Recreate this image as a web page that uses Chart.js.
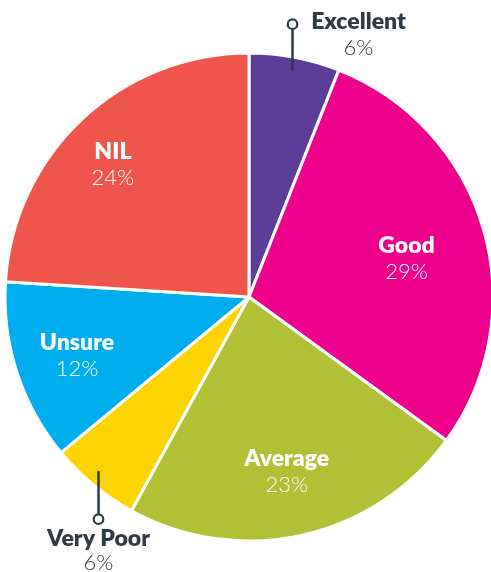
<!DOCTYPE html>
<html><head><meta charset="utf-8">
<script src="https://cdn.jsdelivr.net/npm/chart.js@4.4.1/dist/chart.umd.min.js"></script>
<style>html,body{margin:0;padding:0;background:#fff;}#wrap{width:491px;height:572px;position:relative;}</style>
</head><body><div id="wrap"><canvas id="c" width="491" height="572"></canvas></div>
<script>
const categories = ["Excellent", "Good", "Average", "Very Poor", "Unsure", "NIL"];
const values = [6, 29, 23, 6, 12, 24];
const valueLabels = ["6%", "29%", "23%", "6%", "12%", "24%"];
const colors = ["#5C3D98", "#EC008C", "#B2C036", "#FDD400", "#00AEEF", "#EF554B"];

// label style: inside (radius fraction) or callout
const labelStyle = [
  {type: "callout", r: 0.946, dx: 0, dy: 0, dir: -1, len: 47, textDx: 66},
  {type: "inside", r: 0.675, dx: 0, dy: 2},
  {type: "inside", r: 0.712, dx: 0, dy: 0},
  {type: "callout", r: 0.93, dx: -7, dy: 0, dir: 1, len: 48, textDx: 0},
  {type: "inside", r: 0.74, dx: -1, dy: -3},
  {type: "inside", r: 0.80, dx: -3, dy: 4}
];
const BOLD = "800 23px Lato";
const LIGHT = "300 22px Lato";

const labelPlugin = {
  id: "labels",
  afterDraw(chart) {
    const ctx = chart.ctx;
    const meta = chart.getDatasetMeta(0);
    meta.data.forEach((arc, i) => {
      const st = labelStyle[i];
      const mid = (arc.startAngle + arc.endAngle) / 2;
      const rr = 243 * st.r;
      const x = arc.x + Math.cos(mid) * rr + st.dx;
      const y = arc.y + Math.sin(mid) * rr + st.dy;
      ctx.save();
      ctx.textAlign = "center";
      ctx.textBaseline = "alphabetic";
      if (st.type === "inside") {
        ctx.fillStyle = "#ffffff";
        ctx.font = BOLD;
        ctx.fillText(categories[i], x, y);
        ctx.font = LIGHT;
        ctx.fillText(valueLabels[i], x, y + 26);
      } else {
        const ex = Math.round(x) + 0.5;
        const cy = y + st.dir * st.len;
        ctx.strokeStyle = "#2E3B44";
        ctx.lineWidth = 2.5;
        ctx.beginPath();
        ctx.moveTo(ex, y);
        ctx.lineTo(ex, cy - st.dir * 5);
        ctx.stroke();
        ctx.beginPath();
        ctx.arc(ex, cy, 4.8, 0, Math.PI * 2);
        ctx.fillStyle = "#ffffff";
        ctx.fill();
        ctx.lineWidth = 2.2;
        ctx.stroke();
        const tx = ex + st.textDx;
        const b1 = st.dir < 0 ? cy + 5 : cy + 27;
        ctx.fillStyle = "#2E3B44";
        ctx.font = BOLD;
        ctx.fillText(categories[i], tx, b1);
        ctx.font = LIGHT;
        ctx.fillText(valueLabels[i], tx, b1 + (st.dir < 0 ? 26 : 24));
      }
      ctx.restore();
    });
  }
};

new Chart(document.getElementById("c"), {
  type: "pie",
  data: {
    labels: categories,
    datasets: [{
      data: values,
      backgroundColor: colors,
      borderColor: "#ffffff",
      borderWidth: 3,
      radius: 244
    }]
  },
  options: {
    responsive: false,
    animation: false,
    layout: {padding: {left: 7, right: 0, top: 55, bottom: 33}},
    plugins: {legend: {display: false}, tooltip: {enabled: false}}
  },
  plugins: [labelPlugin]
});
</script></body></html>
